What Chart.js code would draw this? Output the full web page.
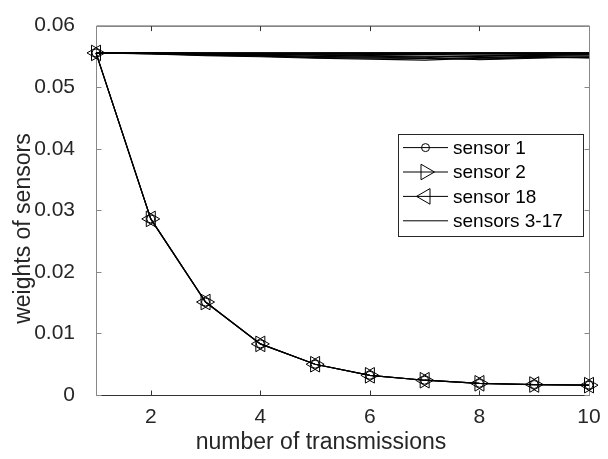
<!DOCTYPE html>
<html>
<head>
<meta charset="utf-8">
<script src="https://cdn.jsdelivr.net/npm/chart.js@4.4.0/dist/chart.umd.min.js"></script>
<style>
  html, body { margin: 0; padding: 0; background: #fff; }
  #wrap { width: 608px; height: 459px; }
</style>
</head>
<body>
<div id="wrap"><canvas id="weights" width="608" height="459"></canvas></div>
<script>
(function() {
  'use strict';

  // ── Data ────────────────────────────────────────────────────────────────
  const transmissions = [1, 2, 3, 4, 5, 6, 7, 8, 9, 10];
  const xTicks = [2, 4, 6, 8, 10];
  const yTicks = [0, 0.01, 0.02, 0.03, 0.04, 0.05, 0.06];

  // sensors 1, 2 and 18 sit on top of each other in the figure
  const sensor1  = [0.05556, 0.0286, 0.0151, 0.0083, 0.0050, 0.0032, 0.0024, 0.0019, 0.0017, 0.0016];
  const sensor2  = [0.05556, 0.0286, 0.0151, 0.0083, 0.0050, 0.0032, 0.0024, 0.0019, 0.0017, 0.0016];
  const sensor18 = [0.05556, 0.0286, 0.0151, 0.0083, 0.0050, 0.0032, 0.0024, 0.0019, 0.0017, 0.0016];

  const sensor3  = [0.05556, 0.05552, 0.05548, 0.05550, 0.05545, 0.05548, 0.05550, 0.05546, 0.05549, 0.05551];
  const sensor4  = [0.05556, 0.05548, 0.05535, 0.05528, 0.05520, 0.05505, 0.05490, 0.05510, 0.05520, 0.05530];
  const sensor5  = [0.05556, 0.05554, 0.05553, 0.05555, 0.05552, 0.05554, 0.05553, 0.05555, 0.05553, 0.05554];
  const sensor6  = [0.05556, 0.05545, 0.05520, 0.05505, 0.05480, 0.05470, 0.05465, 0.05455, 0.05480, 0.05495];
  const sensor7  = [0.05556, 0.05553, 0.05550, 0.05548, 0.05550, 0.05552, 0.05549, 0.05551, 0.05550, 0.05552];
  const sensor8  = [0.05556, 0.05540, 0.05510, 0.05495, 0.05470, 0.05455, 0.05440, 0.05470, 0.05485, 0.05475];
  const sensor9  = [0.05556, 0.05555, 0.05554, 0.05553, 0.05554, 0.05555, 0.05553, 0.05554, 0.05555, 0.05554];
  const sensor10 = [0.05556, 0.05550, 0.05538, 0.05530, 0.05525, 0.05515, 0.05505, 0.05500, 0.05515, 0.05510];
  const sensor11 = [0.05556, 0.05554, 0.05551, 0.05552, 0.05551, 0.05553, 0.05552, 0.05550, 0.05552, 0.05553];
  const sensor12 = [0.05556, 0.05547, 0.05530, 0.05520, 0.05500, 0.05490, 0.05485, 0.05445, 0.05470, 0.05490];
  const sensor13 = [0.05556, 0.05555, 0.05552, 0.05550, 0.05551, 0.05550, 0.05552, 0.05553, 0.05551, 0.05550];
  const sensor14 = [0.05556, 0.05552, 0.05545, 0.05540, 0.05535, 0.05530, 0.05532, 0.05522, 0.05530, 0.05535];
  const sensor15 = [0.05556, 0.05554, 0.05553, 0.05551, 0.05553, 0.05552, 0.05554, 0.05552, 0.05554, 0.05555];
  const sensor16 = [0.05556, 0.05545, 0.05525, 0.05512, 0.05485, 0.05490, 0.05470, 0.05480, 0.05500, 0.05480];
  const sensor17 = [0.05556, 0.05553, 0.05548, 0.05545, 0.05542, 0.05538, 0.05545, 0.05540, 0.05543, 0.05542];

  const middleSensors = [sensor3, sensor4, sensor5, sensor6, sensor7, sensor8, sensor9, sensor10,
                         sensor11, sensor12, sensor13, sensor14, sensor15, sensor16, sensor17];

  // ── Style ───────────────────────────────────────────────────────────────
  const FONT   = "'Liberation Sans', Arial, Helvetica, sans-serif";
  const TEXT   = '#262626';
  const MARK_R = 9;

  const pts = vals => vals.map((v, i) => ({ x: transmissions[i], y: v }));

  function markedSet(label, vals, style, rot, r) {
    return {
      label, data: pts(vals),
      borderColor: '#000', borderWidth: 1.2,
      pointStyle: style, pointRotation: rot, pointRadius: r,
      pointBorderColor: '#000', pointBorderWidth: 1,
      pointBackgroundColor: 'rgba(0,0,0,0)',
      tension: 0, clip: false, mark: { style, rot, r }
    };
  }

  const datasets = [
    markedSet('sensor 1',  sensor1,  'circle',   0,   4),
    markedSet('sensor 2',  sensor2,  'triangle', 90,  MARK_R),
    markedSet('sensor 18', sensor18, 'triangle', 270, MARK_R),
  ];
  middleSensors.forEach(vals => datasets.push({
    label: 'sensors 3-17', data: pts(vals),
    borderColor: '#000', borderWidth: 1.1, pointRadius: 0, tension: 0
  }));

  function drawMark(ctx, m, x, y) {
    ctx.beginPath();
    if (m.style === 'circle') {
      ctx.arc(x, y, m.r, 0, Math.PI * 2);
    } else {
      let a = m.rot * Math.PI / 180;
      ctx.moveTo(x + Math.sin(a) * m.r, y - Math.cos(a) * m.r);
      a += Math.PI * 2 / 3;
      ctx.lineTo(x + Math.sin(a) * m.r, y - Math.cos(a) * m.r);
      a += Math.PI * 2 / 3;
      ctx.lineTo(x + Math.sin(a) * m.r, y - Math.cos(a) * m.r);
      ctx.closePath();
    }
    ctx.stroke();
  }

  // ── Box with inward ticks (MATLAB look) ────────────────────────────────
  const frame = {
    id: 'frame',
    beforeDatasetsDraw(chart) {
      const { ctx, chartArea: a, scales: { x, y } } = chart;
      const L = a.left + 0.5, R = a.right + 0.5, T = a.top + 0.5, B = a.bottom + 0.5;
      ctx.save();
      ctx.lineWidth = 1;
      ctx.strokeStyle = '#333';
      ctx.beginPath();
      ctx.moveTo(L, T); ctx.lineTo(R, T);
      ctx.moveTo(L, B); ctx.lineTo(R, B);
      xTicks.forEach(v => {
        const px = Math.round(x.getPixelForValue(v)) + 0.5;
        ctx.moveTo(px, B); ctx.lineTo(px, B - 5);
        ctx.moveTo(px, T); ctx.lineTo(px, T + 5);
      });
      ctx.stroke();
      ctx.strokeStyle = '#888';
      ctx.beginPath();
      ctx.moveTo(L, T); ctx.lineTo(L, B);
      ctx.moveTo(R, T); ctx.lineTo(R, B);
      yTicks.forEach(v => {
        const py = Math.round(y.getPixelForValue(v)) + 0.5;
        ctx.moveTo(L, py); ctx.lineTo(L + 5, py);
        ctx.moveTo(R, py); ctx.lineTo(R - 5, py);
      });
      ctx.stroke();
      ctx.restore();
    },
    afterDraw(chart) {
      const { ctx, chartArea: a } = chart;
      ctx.save();
      // axis titles
      ctx.fillStyle = TEXT;
      ctx.font = '23px ' + FONT;
      ctx.textAlign = 'center';
      ctx.textBaseline = 'middle';
      ctx.fillText('number of transmissions', a.left + 225, a.bottom + 48);
      ctx.translate(24, a.top + 203);
      ctx.rotate(-Math.PI / 2);
      ctx.fillText('weights of sensors', 0, 0);
      ctx.restore();

      // legend
      const seen = new Set();
      const items = chart.data.datasets.filter(d => !seen.has(d.label) && seen.add(d.label));
      const bx = a.right - 191, by = a.top + 108, bw = 185, rowH = 24.4;
      const bh = 14 + rowH * (items.length - 1) + 15;
      ctx.save();
      ctx.fillStyle = '#fff';
      ctx.fillRect(bx, by, bw, bh);
      ctx.strokeStyle = '#262626';
      ctx.lineWidth = 1;
      ctx.strokeRect(Math.round(bx) + 0.5, Math.round(by) + 0.5, bw, Math.round(bh));
      ctx.font = '19px ' + FONT;
      ctx.textAlign = 'left';
      ctx.textBaseline = 'middle';
      items.forEach((d, i) => {
        const cy = by + 14 + i * rowH;
        ctx.strokeStyle = '#000';
        ctx.lineWidth = 1;
        ctx.beginPath();
        ctx.moveTo(bx + 5, cy); ctx.lineTo(bx + 50, cy);
        ctx.stroke();
        if (d.mark) drawMark(ctx, d.mark, bx + 27.5, cy);
        ctx.fillStyle = '#000';
        ctx.fillText(d.label, bx + 55, cy + 1);
      });
      ctx.restore();
    }
  };

  new Chart(document.getElementById('weights'), {
    type: 'line',
    data: { datasets },
    options: {
      responsive: false,
      devicePixelRatio: 1,
      animation: false,
      events: [],
      layout: { padding: { left: 0, right: 19, top: 13, bottom: 0 } },
      plugins: { legend: { display: false }, tooltip: { enabled: false } },
      scales: {
        x: {
          type: 'linear', min: 1, max: 10,
          afterBuildTicks: s => { s.ticks = xTicks.map(v => ({ value: v })); },
          afterFit: s => { s.height = 64; },
          grid: { display: false }, border: { display: false },
          ticks: { color: TEXT, font: { family: FONT, size: 21 }, padding: 2, maxRotation: 0 }
        },
        y: {
          type: 'linear', min: 0, max: 0.06,
          afterBuildTicks: s => { s.ticks = yTicks.map(v => ({ value: v })); },
          afterFit: s => { s.width = 96; },
          grid: { display: false }, border: { display: false },
          ticks: {
            color: TEXT, font: { family: FONT, size: 21 }, padding: 13,
            callback: v => v === 0 ? '0' : v.toFixed(2)
          }
        }
      }
    },
    plugins: [frame]
  });
})();
</script>
</body>
</html>
